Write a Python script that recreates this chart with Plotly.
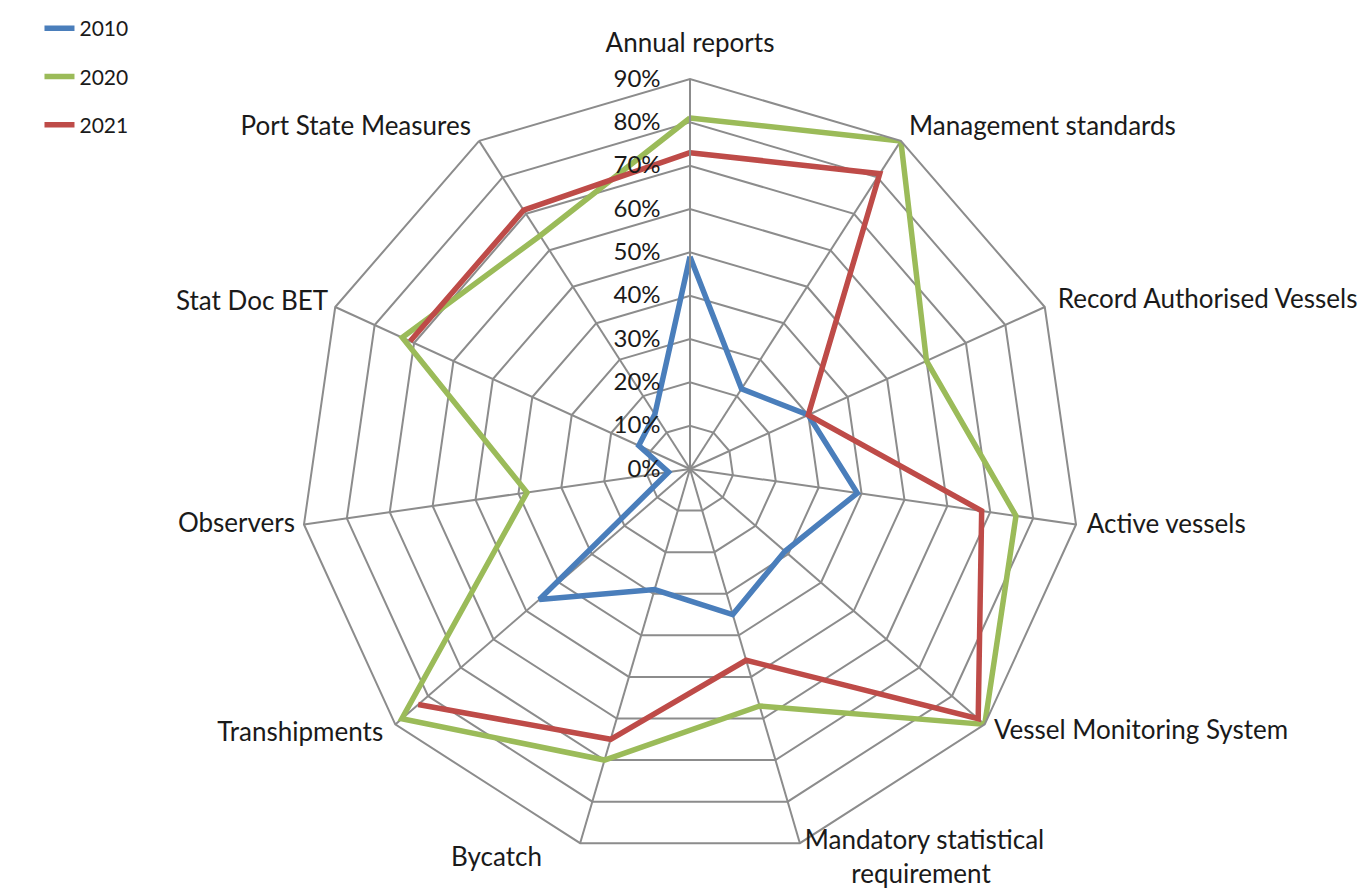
import plotly.graph_objects as go

categories = ["Annual reports", "Management standards", "Record Authorised Vessels",
              "Active vessels", "Vessel Monitoring System",
              "Mandatory statistical<br>requirement", "Bycatch", "Transhipments",
              "Observers", "Stat Doc BET", "Port State Measures"]
y2010 = [49, 22, 30, 39, 29, 35, 29, 46, 5, 13, 15]
y2020 = [81, 90, 60, 76, 90, 57, 70, 88, 38, 73, 64]
y2021 = [73, 81, 30, 68, 88, 46, 65, 83, None, 71, 71]
series_names = ["2010", "2020", "2021"]
radial_ticks = [0, 10, 20, 30, 40, 50, 60, 70, 80, 90]
radial_ticktext = ["0%", "10%", "20%", "30%", "40%", "50%", "60%", "70%", "80%", "90%"]

# styling / label placement (not data)
colors = ["#4A7EBB", "#9BBB59", "#BE4B48"]
LABEL_R = [97.8, 93.5, 93.3, 92.5, 92.8, 94.0, 94.0, 93.7, 92.1, 91.8, 93.5]
LABEL_POS = ["middle center", "middle right", "middle right", "middle right", "middle right",
             "middle right", "middle left", "middle left", "middle left", "middle left",
             "middle left"]
NB = "\u00a0"
# label text: same category names, with non-breaking-space padding to mimic the
# reference's centred second line and the offset "Bycatch" label
label_text = list(categories)
label_text[5] = categories[5].replace("<br>", "<br>" + NB * 7)
label_text[6] = categories[6] + NB * 5

fig = go.Figure()
for name, vals, col in zip(series_names, [y2010, y2020, y2021], colors):
    fig.add_trace(go.Scatterpolar(
        r=vals + [vals[0]],
        theta=categories + [categories[0]],
        mode="lines",
        name=name,
        legendgroup=name,
        line=dict(color=col, width=5.5),
        connectgaps=False,
    ))

# category labels on an invisible, concentric, larger polar subplot (same scale)
fig.add_trace(go.Scatterpolar(
    r=LABEL_R, theta=categories, mode="text", text=label_text,
    textposition=LABEL_POS, cliponaxis=False, showlegend=False, hoverinfo="skip",
    subplot="polar2",
    textfont=dict(size=26, color="#1a1a1a", family="Lato, Carlito, sans-serif"),
))

W, H = 1369, 889
cx, cy, R = 682, 461, 390          # plot centre / radius inside the figure
R2 = H - cy                        # larger radius for the label subplot
grid = "#8C8C8C"
fig.update_layout(
    width=W, height=H,
    margin=dict(l=0, r=0, t=0, b=0),
    paper_bgcolor="white",
    font=dict(family="Lato, Carlito, sans-serif", size=23, color="#1a1a1a"),
    showlegend=True,
    legend=dict(x=0.023, y=1.0, xanchor="left", yanchor="top",
                font=dict(size=21), tracegroupgap=18, bgcolor="rgba(0,0,0,0)"),
    polar=dict(
        domain=dict(x=[(cx - R) / W, (cx + R) / W],
                    y=[(H - cy - R) / H, (H - cy + R) / H]),
        bgcolor="white",
        gridshape="linear",
        angularaxis=dict(direction="clockwise", rotation=90,
                         linecolor=grid, linewidth=2, gridcolor=grid, gridwidth=2,
                         showticklabels=False, ticks=""),
        radialaxis=dict(range=[0, 90], tickmode="array", tickvals=radial_ticks,
                        ticktext=radial_ticktext,
                        angle=90, tickangle=90, side="counterclockwise",
                        showline=True, linecolor=grid, linewidth=2,
                        gridcolor=grid, gridwidth=2,
                        ticks="outside", ticklen=20, tickcolor="rgba(0,0,0,0)",
                        tickfont=dict(size=24)),
    ),
    polar2=dict(
        domain=dict(x=[(cx - R2) / W, (cx + R2) / W],
                    y=[0, 2 * R2 / H]),
        bgcolor="rgba(0,0,0,0)",
        angularaxis=dict(direction="clockwise", rotation=90, type="category",
                         categoryarray=categories, visible=False),
        radialaxis=dict(range=[0, 90 * R2 / R], visible=False),
    ),
)
fig.write_html("out.html")
